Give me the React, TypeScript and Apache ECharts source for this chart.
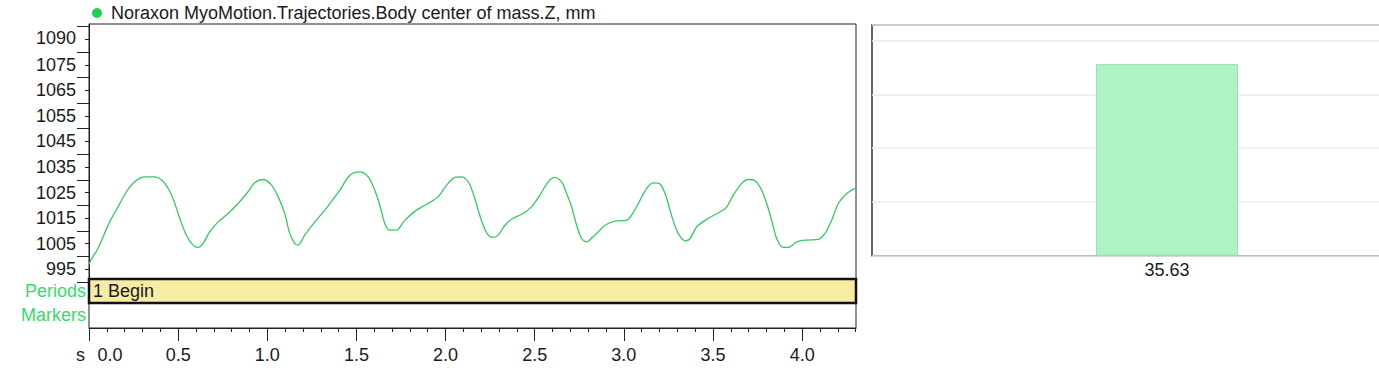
import React, { useEffect, useRef } from "react";
import * as echarts from "echarts";

// ---- data ----
const timeS = [
  0.0, 0.013, 0.05, 0.116, 0.163, 0.21, 0.256, 0.313, 0.369, 0.425, 0.471, 0.509, 0.546, 0.584, 0.612, 0.64,
  0.677, 0.724, 0.78, 0.836, 0.892, 0.93, 0.976, 1.024, 1.061, 1.098, 1.126, 1.154, 1.173, 1.21, 1.267, 1.323,
  1.379, 1.407, 1.463, 1.519, 1.566, 1.603, 1.631, 1.659, 1.687, 1.725, 1.772, 1.837, 1.902, 1.958, 2.006, 2.052,
  2.09, 2.127, 2.155, 2.183, 2.211, 2.239, 2.267, 2.295, 2.333, 2.379, 2.435, 2.482, 2.529, 2.576, 2.613, 2.651,
  2.679, 2.707, 2.735, 2.763, 2.791, 2.828, 2.866, 2.894, 2.95, 3.016, 3.044, 3.081, 3.128, 3.165, 3.203, 3.231,
  3.259, 3.288, 3.316, 3.344, 3.372, 3.409, 3.474, 3.539, 3.577, 3.614, 3.661, 3.698, 3.736, 3.773, 3.801, 3.829,
  3.857, 3.895, 3.923, 3.97, 4.026, 4.091, 4.128, 4.166, 4.203, 4.25, 4.297,
];
const comZmm = [
  996.8, 998.8, 1003.1, 1013.5, 1019.4, 1025.3, 1029.2, 1031.1, 1031.1, 1028.6, 1022.7, 1014.9, 1008.3, 1004.4, 1003.5, 1005.1,
  1009.6, 1013.5, 1016.8, 1020.7, 1025.3, 1028.8, 1030.1, 1027.9, 1023.3, 1016.8, 1009.0, 1005.1, 1004.4, 1008.3, 1013.5, 1018.1,
  1023.3, 1025.9, 1031.8, 1033.1, 1031.1, 1025.9, 1020.1, 1012.9, 1010.3, 1010.3, 1014.2, 1018.1, 1020.7, 1023.3, 1027.9, 1030.9,
  1031.1, 1029.2, 1024.6, 1018.1, 1012.2, 1008.3, 1007.4, 1008.3, 1012.2, 1014.9, 1016.8, 1019.4, 1024.0, 1029.2, 1030.9, 1029.2,
  1024.6, 1019.4, 1012.2, 1007.0, 1005.7, 1007.7, 1010.3, 1012.2, 1013.8, 1014.2, 1016.2, 1020.7, 1026.6, 1028.8, 1028.3, 1024.6,
  1018.1, 1011.6, 1007.7, 1006.1, 1007.0, 1011.6, 1014.9, 1017.4, 1019.4, 1024.0, 1028.6, 1030.1, 1029.6, 1025.9, 1020.7, 1014.2,
  1007.0, 1003.5, 1003.5, 1005.7, 1006.4, 1006.7, 1009.0, 1014.2, 1020.7, 1024.6, 1026.6,
];
const yLabelValues = [995, 1005, 1015, 1025, 1035, 1045, 1055, 1065, 1075, 1090];
const yTickValues = [990, 1000, 1010, 1020, 1030, 1040, 1050, 1060, 1070, 1080, 1090];
const xTickValues = [0, 0.5, 1.0, 1.5, 2.0, 2.5, 3.0, 3.5, 4.0];
const periods = [{ name: "1 Begin", start: 0, end: 4.302 }];
const barCategories = ["35.63"];
const barValues = [35.63];

const TITLE = "Noraxon MyoMotion.Trajectories.Body center of mass.Z, mm";
const FONT = "'Liberation Sans', Arial, sans-serif";
const LINE_GREEN = "#30cc60";
const LABEL_GREEN = "#3ad96c";
const X_MAX = 4.302;

export default function App() {
  const leftRef = useRef<HTMLDivElement>(null);
  const rightRef = useRef<HTMLDivElement>(null);

  useEffect(() => {
    if (!leftRef.current || !rightRef.current) return;
    const chart = echarts.init(leftRef.current, undefined, { renderer: "svg" });
    const chart2 = echarts.init(rightRef.current, undefined, { renderer: "svg" });

    const L = 89, R = 856;
    const bandTop = 279, bandBot = 303;

    const option: any = {
      animation: false,
      textStyle: { fontFamily: FONT },
      grid: [
        { left: L, top: 24, width: R - L, height: 281.9 - 24, show: true, borderColor: "#222", borderWidth: 1, backgroundColor: "transparent" },
        { left: L, top: bandBot, width: R - L, height: 25, show: true, borderColor: "#222", borderWidth: 1 },
      ],
      xAxis: [
        { type: "value", gridIndex: 0, min: 0, max: X_MAX, show: false },
        {
          type: "value", gridIndex: 1, min: 0, max: X_MAX, interval: 0.5,
          axisLine: { show: true, lineStyle: { color: "#222", width: 1 } },
          axisTick: { show: true, length: 13, customValues: xTickValues, lineStyle: { color: "#222" } },
          minorTick: { show: true, splitNumber: 5, length: 4, lineStyle: { color: "#222" } },
          splitLine: { show: false },
          axisLabel: {
            customValues: xTickValues, margin: 18, fontSize: 18, color: "#1a1a1a", fontFamily: FONT,
            showMinLabel: true, showMaxLabel: true,
            formatter: (v: number) => (v === 0 ? "{first|0.0}" : v.toFixed(1)),
            rich: { first: { fontSize: 18, color: "#1a1a1a", fontFamily: FONT, padding: [0, 0, 0, 42] } },
          },
        },
      ],
      yAxis: [
        {
          type: "value", gridIndex: 0, min: 990, max: 1091, interval: 10,
          axisLine: { show: true, lineStyle: { color: "#222", width: 1 } },
          axisTick: { show: true, length: 12, customValues: yTickValues, lineStyle: { color: "#222" } },
          minorTick: { show: true, splitNumber: 2, length: 4, lineStyle: { color: "#222" } },
          splitLine: { show: false },
          axisLabel: {
            customValues: yLabelValues, margin: 13, fontSize: 18, lineHeight: 23, color: "#1a1a1a", fontFamily: FONT,
            showMinLabel: true, showMaxLabel: true,
            formatter: (v: number) => (v === 1090 ? "\n1090" : String(v)),
          },
        },
        { type: "value", gridIndex: 1, min: 0, max: 1, show: false },
      ],
      series: [
        {
          type: "line", xAxisIndex: 0, yAxisIndex: 0,
          data: timeS.map((t, i) => [t, comZmm[i]]),
          showSymbol: false, smooth: 0.3,
          lineStyle: { color: LINE_GREEN, width: 1.3 },
        },
      ],
      graphic: [
        { type: "circle", shape: { cx: 97, cy: 13, r: 5 }, style: { fill: "#1fd04f" } },
        { type: "text", x: 111, y: 13, style: { text: TITLE, font: `18px ${FONT}`, fill: "#1a1a1a", textVerticalAlign: "middle" } },
        ...periods.map((p) => {
          const x0 = L + (p.start / X_MAX) * (R - L);
          const x1 = L + (p.end / X_MAX) * (R - L);
          return {
            type: "group", z: 100,
            children: [
              { type: "rect", shape: { x: x0, y: bandTop, width: x1 - x0, height: bandBot - bandTop }, style: { fill: "#f6eca4", stroke: "#111", lineWidth: 2.5 } },
              { type: "text", x: x0 + 4, y: (bandTop + bandBot) / 2, style: { text: p.name, font: `18px ${FONT}`, fill: "#1a1a1a", textVerticalAlign: "middle" } },
            ],
          };
        }),
        { type: "text", x: 86, y: 291, style: { text: "Periods", font: `18px ${FONT}`, fill: LABEL_GREEN, textAlign: "right", textVerticalAlign: "middle" } },
        { type: "text", x: 86, y: 315, style: { text: "Markers", font: `18px ${FONT}`, fill: LABEL_GREEN, textAlign: "right", textVerticalAlign: "middle" } },
        { type: "text", x: 85, y: 355, style: { text: "s", font: `18px ${FONT}`, fill: "#1a1a1a", textAlign: "right", textVerticalAlign: "middle" } },
      ],
    };

    const option2: any = {
      animation: false,
      textStyle: { fontFamily: FONT },
      grid: { left: 12, top: 25, width: 590, height: 255.7 - 25, show: true, borderColor: "#333", borderWidth: 1.5 },
      xAxis: {
        type: "category", data: barCategories,
        axisLine: { show: false }, axisTick: { show: false },
        axisLabel: { fontSize: 18, color: "#1a1a1a", margin: 5, fontFamily: FONT },
      },
      yAxis: {
        type: "value", min: 0, max: 42.9, interval: 10,
        axisLine: { show: false }, axisTick: { show: false }, axisLabel: { show: false },
        splitLine: { show: true, lineStyle: { color: "#ededed", width: 1.5 } },
      },
      series: [
        {
          type: "bar", data: barValues, barWidth: 142,
          itemStyle: { color: "#aef2c5", borderColor: "#96e3ad", borderWidth: 1 },
        },
      ],
    };

    chart.setOption(option);
    chart2.setOption(option2);
    return () => {
      chart.dispose();
      chart2.dispose();
    };
  }, []);

  return (
    <div style={{ position: "absolute", left: 0, top: 0, width: 1379, height: 370, overflow: "hidden", background: "#fff" }}>
      <div ref={leftRef} style={{ position: "absolute", left: 0, top: 0, width: 866, height: 370 }} />
      <div ref={rightRef} style={{ position: "absolute", left: 860, top: 0, width: 620, height: 370 }} />
    </div>
  );
}
